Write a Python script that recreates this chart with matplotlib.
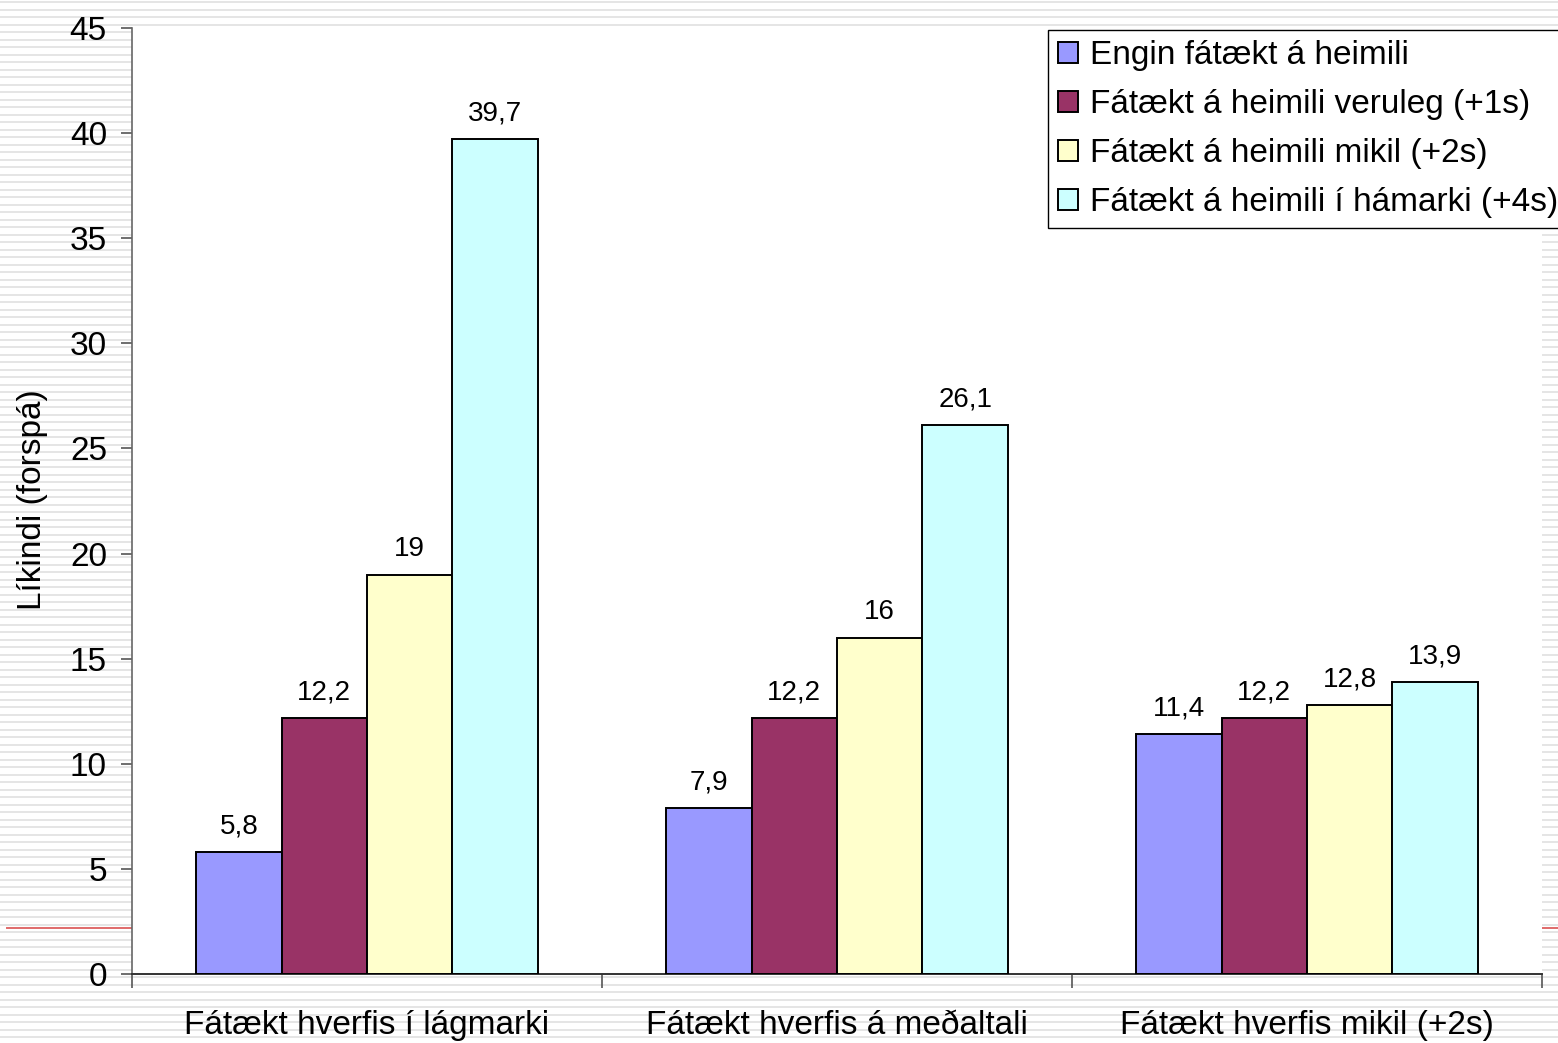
import numpy as np
import matplotlib

matplotlib.use("Agg")
import matplotlib.pyplot as plt
from matplotlib.lines import Line2D

# Flokkar á x-ás
categories = [
    "Fátækt hverfis í lágmarki",
    "Fátækt hverfis á meðaltali",
    "Fátækt hverfis mikil (+2s)",
]

# Raðir (ein fyrir hvern lit)
series_names = [
    "Engin fátækt á heimili",
    "Fátækt á heimili veruleg (+1s)",
    "Fátækt á heimili mikil (+2s)",
    "Fátækt á heimili í hámarki (+4s)",
]
engin = [5.8, 7.9, 11.4]
veruleg = [12.2, 12.2, 12.2]
mikil = [19, 16, 12.8]
hamark = [39.7, 26.1, 13.9]

y_ticks = [0, 5, 10, 15, 20, 25, 30, 35, 40, 45]
y_label = "Líkindi (forspá)"

colors = ["#9999FF", "#993366", "#FFFFCC", "#CCFFFF"]


def fmt(value):
    """Íslensk tugabrot: komma í stað punkts."""
    if float(value).is_integer():
        return str(int(value))
    return f"{value:.1f}".replace(".", ",")


def draw_background(fig):
    """Gráar láréttar rendur og rauð lína eins og á glærunni."""
    W, H = fig.get_size_inches() * fig.dpi
    for y in np.arange(2, H, 7.5):
        fig.add_artist(Line2D([0, 1], [1 - y / H, 1 - y / H],
                              transform=fig.transFigure, color="#e3e3e3",
                              linewidth=1.3, zorder=-5))
    fig.add_artist(Line2D([7 / W, 1], [1 - 928 / H, 1 - 928 / H],
                          transform=fig.transFigure, color="#e06a6a",
                          linewidth=1.4, zorder=-4))


def plot_chart():
    plt.rcParams["font.family"] = ["Liberation Sans", "DejaVu Sans"]
    fig = plt.figure(figsize=(15.58, 10.43), dpi=100)
    W, H = 1558, 1043
    draw_background(fig)

    ax = fig.add_axes([132 / W, 1 - 974 / H, 1410 / W, 946 / H])
    ax.set_facecolor("white")

    all_series = [engin, veruleg, mikil, hamark]
    x = np.arange(len(categories))
    width = 1 / 5.5  # bilbreidd 150%
    handles = []
    for i, (vals, col, name) in enumerate(zip(all_series, colors, series_names)):
        pos = x + (i - 1.5) * width
        bars = ax.bar(pos, vals, width=width, color=col, edgecolor="black",
                      linewidth=1.4, label=name, zorder=3)
        handles.append(bars)
        for xp, v in zip(pos, vals):
            ax.annotate(fmt(v), (xp, v), xytext=(0, 9),
                        textcoords="offset points", ha="center",
                        va="bottom", fontsize=20)

    ax.set_xlim(-0.5, len(categories) - 0.5)
    ax.set_ylim(0, 45)
    ax.set_yticks(y_ticks)
    ax.tick_params(axis="y", labelsize=24, length=8, width=1.2,
                   color="#555555", pad=10)

    # Stór strik á mörkum flokka, heiti flokka á miðjunni
    ax.set_xticks(np.arange(len(categories) + 1) - 0.5)
    ax.set_xticklabels([])
    ax.set_xticks(x, minor=True)
    ax.set_xticklabels(categories, minor=True, fontsize=24)
    ax.tick_params(axis="x", which="major", length=10, width=1.2,
                   color="#555555")
    ax.tick_params(axis="x", which="minor", length=0, pad=26)

    ax.spines["top"].set_visible(False)
    ax.spines["right"].set_visible(False)
    ax.spines["left"].set_color("#666666")
    ax.spines["bottom"].set_color("#333333")
    ax.spines["left"].set_linewidth(1.2)
    ax.spines["bottom"].set_linewidth(1.4)

    fig.text(33 / W, 1 - 500 / H, y_label, rotation=90, fontsize=24,
             ha="center", va="center")

    leg = ax.legend(handles=handles, loc="upper left",
                    bbox_to_anchor=(1048 / W, 1 - 30 / H),
                    bbox_transform=fig.transFigure, fontsize=24,
                    frameon=True, fancybox=False, framealpha=1,
                    edgecolor="black", handlelength=0.6, handleheight=0.6,
                    handletextpad=0.35, labelspacing=0.54, borderpad=0.3,
                    borderaxespad=0)
    leg.get_frame().set_linewidth(1.0)

    fig.savefig("out.png", dpi=100, facecolor="white")


if __name__ == "__main__":
    plot_chart()
